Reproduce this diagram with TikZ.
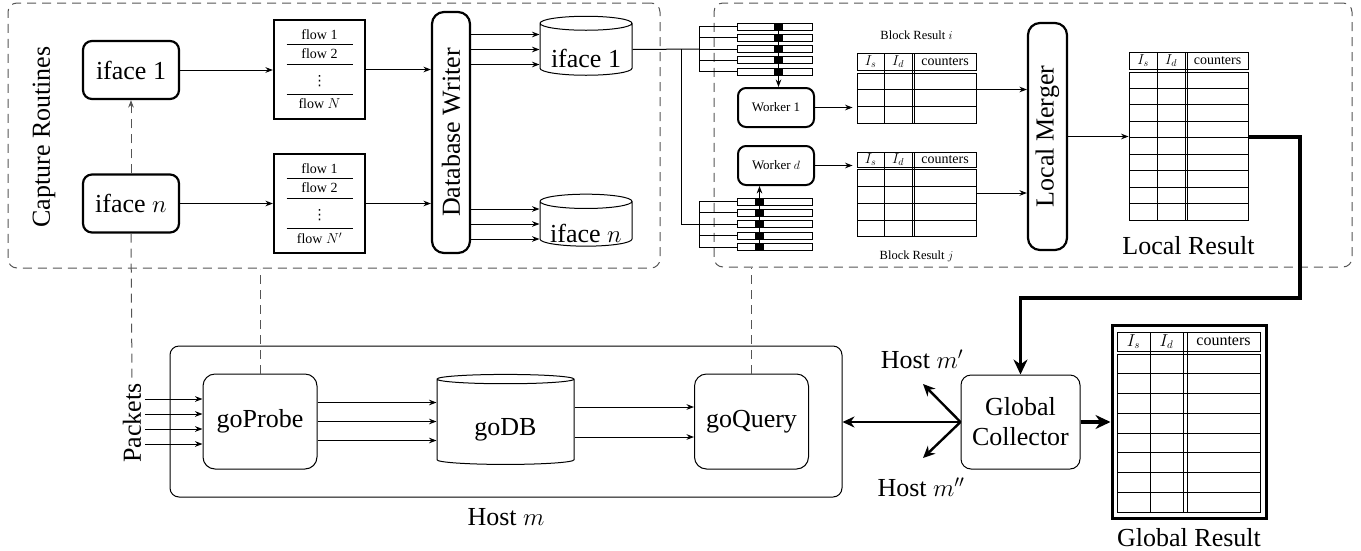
\documentclass[tikz,border=0pt]{standalone}
\usepackage{fontspec}
\setmainfont{Liberation Serif}
\newfontfamily\dotsfont{DejaVu Sans}
\usepackage{xcolor}
\definecolor{regiongray}{RGB}{85,85,85}
\usepackage{tikz}
\usetikzlibrary{shapes.geometric,arrows.meta,positioning,calc}

\begin{document}
\begin{tikzpicture}[
  x=1pt, y=-1pt,
  line width=1pt,
  font=\fontsize{26}{30}\selectfont,
  region/.style={rectangle, rounded corners=9pt, draw=regiongray, line width=1pt,
              dash pattern=on 9pt off 6pt},
  ifbox/.style={rectangle, rounded corners=9pt, draw, line width=2.2pt,
              minimum width=96pt, minimum height=58pt, inner sep=2pt},
  tallbox/.style={rectangle, rounded corners=12pt, draw, line width=2.2pt,
              rotate=90, inner sep=2pt},
  workbox/.style={rectangle, rounded corners=8pt, draw, line width=2pt,
              minimum width=76pt, minimum height=39pt, font=\fontsize{13}{15}\selectfont},
  hostbox/.style={rectangle, rounded corners=12pt, draw, line width=1pt,
              minimum width=114pt, minimum height=95pt, align=center},
  flowtab/.style={rectangle, draw, line width=2.2pt, minimum width=91pt, minimum height=99pt},
  flowtxt/.style={inner sep=0pt, font=\fontsize{14}{16}\selectfont},
  dbcyl/.style={cylinder, shape border rotate=90, draw, line width=1pt, aspect=0.2, inner sep=0pt},
  bar/.style={rectangle, draw, line width=1pt, minimum width=75pt, minimum height=7pt, inner sep=0pt},
  blk/.style={rectangle, fill=black, minimum width=9pt, minimum height=7pt, inner sep=0pt},
  cell/.style={rectangle, draw, line width=0.9pt, inner sep=0pt},
  tabtxt/.style={inner sep=0pt, font=\fontsize{14}{16}\selectfont},
  smalltxt/.style={inner sep=0pt, font=\fontsize{12.5}{15}\selectfont},
  arr/.style={-Stealth, line width=1pt},
  dasharr/.style={-Stealth, line width=1pt, draw=regiongray, dash pattern=on 9pt off 6pt},
  dashln/.style={line width=1pt, draw=regiongray, dash pattern=on 9pt off 6pt},
  hostarr/.style={-{Stealth[length=12pt,width=11pt]}, line width=2.4pt},
  resarr/.style={-{Stealth[length=15pt,width=14pt]}, line width=3.5pt}
]
\useasboundingbox (0,0) rectangle (1361,550);

%% capture routines
\node[region, minimum width=652pt, minimum height=265pt] (cap) at (334,135.5) {};
\node[rotate=90] (caplab) at (44,137) {Capture Routines};
\node[ifbox] (if1) at (131,70) {iface 1};
\node[ifbox] (ifn) at (131,203.5) {iface $n$};

\foreach \n/\ya/\lst in {1/69.5/N, 2/203.5/N'}{
  \node[flowtab] (ft\n) at (319.5,\ya) {};
  \node[flowtxt] (ft\n-a) at ([yshift=34.5pt]ft\n.center) {flow 1};
  \node[flowtxt] (ft\n-b) at ([yshift=15.5pt]ft\n.center) {flow 2};
  \node[flowtxt] (ft\n-c) at ([yshift=-11.5pt]ft\n.center) {\dotsfont ⋮};
  \node[flowtxt] (ft\n-d) at ([yshift=-34.5pt]ft\n.center) {flow $\lst$};
  \foreach \dy in {25.5,5.5,-24.5}
    \draw ([shift={(-33pt,\dy pt)}]ft\n.center) -- ([shift={(33pt,\dy pt)}]ft\n.center);
}

\node[tallbox, minimum width=241pt, minimum height=38pt] (dbw) at (451,132.5) {Database Writer};
\node[dbcyl, minimum width=92pt, minimum height=59pt] (cy1) at (586,49.5) {\phantom{iface 1}};
\node (cy1-t) at ([yshift=-8.5pt]cy1.center) {iface 1};
\node[dbcyl, minimum width=92pt, minimum height=52pt] (cyn) at (586,224) {\phantom{iface $n$}};
\node (cyn-t) at ([yshift=-9pt]cyn.center) {iface $n$};

%% query workers
\node[region, minimum width=638pt, minimum height=264pt] (wk) at (1033,135) {};
\foreach \i/\y in {1/26.5,2/37.75,3/49,4/60.25,5/71.5} {
  \node[bar] (ba\i) at (774.5,\y) {};
  \node[blk] (ka\i) at (778.5,\y) {};
}
\foreach \i/\y in {1/201.5,2/212.9,3/224.25,4/235.6,5/247} {
  \node[bar] (bb\i) at (774.5,\y) {};
  \node[blk] (kb\i) at (759.5,\y) {};
}
\node[workbox] (w1) at (776,107.5) {Worker 1};
\node[workbox] (wd) at (776,165.5) {Worker $d$};

%% block result i
\node[cell, minimum width=119pt, minimum height=17pt] (brih) at (916.5,61.5) {};
\node[cell, minimum width=119pt, minimum height=50pt] (bri) at (916.5,98) {};
\draw[line width=0.9pt] (884,53) -- (884,123) (912,53) -- (912,123) (914.5,53) -- (914.5,123);
\foreach \y in {89.5,106} \draw[line width=0.9pt] (857,\y) -- (976,\y);
\node[tabtxt] (bri-s) at (870.5,61.5) {$I_s$};
\node[tabtxt] (bri-d) at (898,61.5) {$I_d$};
\node[tabtxt] (bri-c) at (945,61.5) {counters};
\node[smalltxt, above=12pt of brih] (bri-l) {Block Result $i$};

%% block result j
\node[cell, minimum width=119pt, minimum height=15pt] (brjh) at (916.5,159.5) {};
\node[cell, minimum width=119pt, minimum height=67pt] (brj) at (916.5,202.5) {};
\draw[line width=0.9pt] (884,152) -- (884,236) (912,152) -- (912,236) (914.5,152) -- (914.5,236);
\foreach \y in {186,203,220} \draw[line width=0.9pt] (857,\y) -- (976,\y);
\node[tabtxt] (brj-s) at (870.5,159.5) {$I_s$};
\node[tabtxt] (brj-d) at (898,159.5) {$I_d$};
\node[tabtxt] (brj-c) at (945,159.5) {counters};
\node[smalltxt, below=14pt of brj] (brj-l) {Block Result $j$};

\node[tallbox, minimum width=227pt, minimum height=39pt] (lm) at (1047.5,136.5) {Local Merger};

%% local result
\node[cell, minimum width=119pt, minimum height=17pt] (lrh) at (1188.5,60.5) {};
\node[cell, minimum width=119pt, minimum height=148pt] (lr) at (1188.5,146) {};
\draw[line width=0.9pt] (1157,52) -- (1157,220) (1185,52) -- (1185,220) (1187.5,52) -- (1187.5,220);
\foreach \k in {1,...,8} \draw[line width=0.9pt] (1129,{72+16.44*\k}) -- (1248,{72+16.44*\k});
\node[tabtxt] (lr-s) at (1143,60.5) {$I_s$};
\node[tabtxt] (lr-d) at (1171,60.5) {$I_d$};
\node[tabtxt] (lr-c) at (1217.5,60.5) {counters};
\node[inner sep=0pt, below=16pt of lr] (lr-l) {Local Result};

%% host m
\node[rectangle, rounded corners=9pt, draw, minimum width=672pt, minimum height=151pt] (host) at (506,421.5) {};
\node[inner sep=0pt, below=10pt of host] (hostlab) {Host $m$};
\node[rotate=90] (pk) at (132,423) {Packets};
\node[hostbox] (gp) at (260,421.5) {goProbe};
\node[dbcyl, aspect=0.15, minimum width=137pt, minimum height=90pt] (gdb) at (505.5,422) {\phantom{goDB}};
\node (gdb-t) at ([yshift=-8pt]gdb.center) {goDB};
\node[hostbox] (gq) at (751.5,421.5) {goQuery};

%% global side
\node[hostbox, minimum width=119pt, minimum height=94pt, rounded corners=10pt] (gc) at (1020.5,422) {Global\\Collector};
\coordinate (hm1) at (923,384);
\coordinate (hm2) at (923,458);
\node (hm1lab) at (922,359) {Host $m'$};
\node (hm2lab) at (921,487) {Host $m''$};

\node[rectangle, draw, line width=3pt, minimum width=154pt, minimum height=193pt] (gr) at (1189,421.5) {};
\node[cell, minimum width=143pt, minimum height=19pt] (grh) at (1188.5,341.5) {};
\node[cell, minimum width=143pt, minimum height=158pt] (grb) at (1188.5,433) {};
\draw[line width=0.9pt] (1150,332) -- (1150,512) (1183,332) -- (1183,512) (1187,332) -- (1187,512);
\foreach \k in {1,...,7} \draw[line width=0.9pt] (1117,{354+19.75*\k}) -- (1260,{354+19.75*\k});
\node[tabtxt, font=\fontsize{16}{18}\selectfont] (gr-s) at (1133.5,341.5) {$I_s$};
\node[tabtxt, font=\fontsize{16}{18}\selectfont] (gr-d) at (1166.5,341.5) {$I_d$};
\node[tabtxt, font=\fontsize{16}{18}\selectfont] (gr-c) at (1223.5,341.5) {counters};
\node[inner sep=0pt, below=8pt of gr] (gr-l) {Global Result};

%% capture connectors
\draw[dasharr] (ifn.north) -- (if1.south);
\draw[dashln] (ifn.south) -- (pk.east);
\draw[arr] (if1.east) -- (if1.east -| ft1.west);
\draw[arr] (ifn.east) -- (ifn.east -| ft2.west);
\draw[arr] (ft1.east) -- (ft1.east -| dbw.north);
\draw[arr] (ft2.east) -- (ft2.east -| dbw.north);
\foreach \dy in {15,0,-15} {
  \draw[arr] ([yshift=\dy pt]cy1.west -| dbw.south) -- ([yshift=\dy pt]cy1.west);
  \draw[arr] ([yshift=\dy pt]cyn.west -| dbw.south) -- ([yshift=\dy pt]cyn.west);
}

%% blocks to workers
\coordinate (sp0) at (681,49);
\coordinate (sp1) at (699,49);
\coordinate (sp2) at (699,224.25);
\draw (cy1.east) -- (sp1);
\draw (sp0) |- (sp2);
\draw (ba1.west -| sp1) -- (ba5.west -| sp1);
\draw (bb1.west -| sp2) -- (bb5.west -| sp2);
\foreach \i in {1,...,5} {
  \draw (ba\i.west -| sp1) -- (ba\i.west);
  \draw (bb\i.west -| sp2) -- (bb\i.west);
}
\draw[arr] (ka1.center) -- (ka1.center |- w1.north);
\draw[arr] (kb5.center) -- (kb5.center |- wd.south);
\draw[arr, shorten >=4pt] (w1.east) -- (w1.east -| bri.west);
\draw[arr, shorten >=4pt] (wd.east) -- (wd.east -| brj.west);
\draw[arr] ([yshift=8.5pt]bri.east) -- ([yshift=8.5pt]bri.east -| lm.north);
\draw[arr] ([yshift=9.5pt]brj.east) -- ([yshift=9.5pt]brj.east -| lm.north);
\draw[arr] (lm.south) -- (lm.south -| lr.west);

%% local result to collector
\coordinate (turn) at (1300,298);
\draw[resarr] ([yshift=9pt]lr.east) -| (turn) -| (gc.north);
\draw[resarr] (gc.east) -- (gc.east -| gr.west);

%% host connectors
\foreach \dy in {22.5,7.5,-7.5,-22.5}
  \draw[arr] ([yshift=\dy pt]gp.west -| pk.south) -- ([yshift=\dy pt]gp.west);
\foreach \dy in {19,0,-19}
  \draw[arr] ([yshift=\dy pt]gp.east) -- ([yshift=\dy pt]gp.east -| gdb.west);
\foreach \dy in {15,-15}
  \draw[arr] ([yshift=\dy pt]gdb.east) -- ([yshift=\dy pt]gdb.east -| gq.west);
\draw[dashln] (gp.north) -- (gp.north |- cap.south);
\draw[dashln] (gq.north) -- (gq.north |- wk.south);
\draw[hostarr] (gc.west) -- (gc.west -| host.east);
\draw[hostarr] (gc.west) -- (hm1);
\draw[hostarr] (gc.west) -- (hm2);

\end{tikzpicture}
\end{document}
